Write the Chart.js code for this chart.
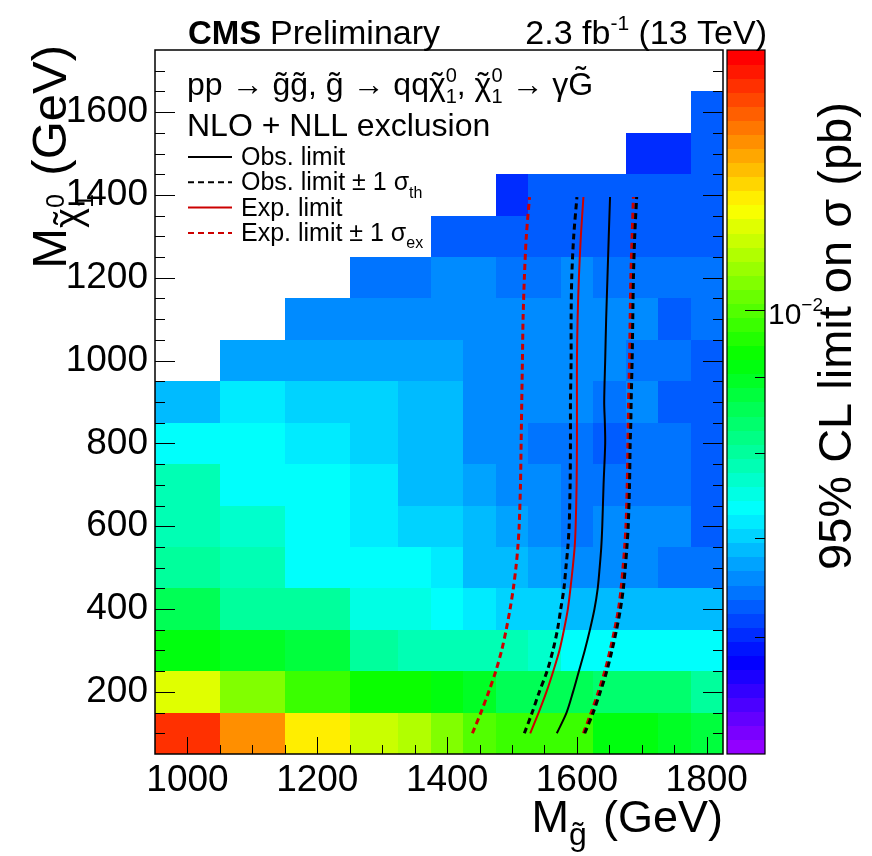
<!DOCTYPE html>
<html>
<head>
<meta charset="utf-8">
<title>gluino - neutralino limit</title>
<script src="https://cdn.jsdelivr.net/npm/chart.js@4.4.1/dist/chart.umd.min.js"></script>
<style>
  html, body { margin: 0; padding: 0; background: #fff; }
  #box { width: 872px; height: 856px; }
</style>
</head>
<body>
<div id="box"><canvas id="limits" width="872" height="856"></canvas></div>
<script>
// bin edges (GeV)
const gluinoEdges = [950, 1050, 1150, 1250, 1325, 1375, 1425, 1475, 1525, 1575, 1625, 1675, 1725, 1775, 1825];
const neutralinoEdges = [50, 150, 250, 350, 450, 550, 650, 750, 850, 950, 1050, 1150, 1250, 1350, 1450, 1550, 1650, 1750];

// 95% CL upper limit on sigma (pb), one list per neutralino bin, null = not scanned
const lim100 = [0.0143, 0.0130, 0.0119, 0.01115, 0.0109, 0.01044, 0.0101, 0.00988, 0.0098, 0.00967, 0.00925, 0.00925, 0.00895, 0.00876];
const lim200 = [0.01152, 0.01055, 0.00988, 0.0094, 0.0094, 0.00925, 0.00895, 0.00866, 0.00857, 0.00857, 0.00838, 0.00838, 0.00829, 0.00802];
const lim300 = [0.00925, 0.00895, 0.00876, 0.00802, 0.00793, 0.00784, 0.00776, 0.00776, 0.00763, 0.0074, 0.0074, 0.0074, 0.0074, 0.0073];
const lim400 = [0.00857, 0.0081, 0.00802, 0.0075, 0.0075, 0.0074, 0.00718, 0.00703, 0.00703, 0.00695, 0.00695, 0.00695, 0.00695, 0.00688];
const lim500 = [0.0081, 0.00793, 0.0074, 0.0073, 0.0073, 0.00718, 0.00684, 0.00684, 0.00672, 0.00663, 0.00663, 0.00651, 0.00644, 0.00644];
const lim600 = [0.00776, 0.00763, 0.0074, 0.00718, 0.00703, 0.00703, 0.00684, 0.00672, 0.00663, 0.00644, 0.00651, 0.00651, 0.00651, 0.0063];
const lim700 = [0.00776, 0.0074, 0.0073, 0.00718, 0.00695, 0.00695, 0.00672, 0.00651, 0.00651, 0.00644, 0.00644, 0.00644, 0.00644, 0.0063];
const lim800 = [0.0073, 0.0073, 0.00718, 0.00703, 0.00695, 0.00688, 0.00663, 0.00651, 0.00644, 0.00644, 0.0063, 0.00644, 0.00644, 0.00623];
const lim900 = [0.00695, 0.00718, 0.00703, 0.00703, 0.00688, 0.00688, 0.00663, 0.00651, 0.00651, 0.00651, 0.00644, 0.00651, 0.00623, 0.0063];
const lim1000 = [null, 0.0068, 0.0068, 0.0068, 0.00672, 0.00672, 0.00663, 0.00651, 0.00651, 0.00651, 0.00651, 0.00644, 0.00644, 0.0063];
const lim1100 = [null, null, 0.00663, 0.00663, 0.00663, 0.00663, 0.00651, 0.00651, 0.00651, 0.00651, 0.00651, 0.00651, 0.00623, 0.00644];
const lim1200 = [null, null, null, 0.0064, 0.0064, 0.00651, 0.00651, 0.00644, 0.00644, 0.00651, 0.00644, 0.00644, 0.00644, 0.00644];
const lim1300 = [null, null, null, null, null, 0.00623, 0.00623, 0.0063, 0.0063, 0.0063, 0.00623, 0.00623, 0.0063, 0.00623];
const lim1400 = [null, null, null, null, null, null, null, 0.00603, 0.00623, 0.00623, 0.00623, 0.00623, 0.00623, 0.00623];
const lim1500 = [null, null, null, null, null, null, null, null, null, null, null, 0.00603, 0.00603, 0.00623];
const lim1600 = [null, null, null, null, null, null, null, null, null, null, null, null, null, 0.00623];
const limitRows = [lim100, lim200, lim300, lim400, lim500, lim600, lim700, lim800, lim900,
    lim1000, lim1100, lim1200, lim1300, lim1400, lim1500, lim1600];

const zMin = 0.005;
const zMax = 0.015;

// exclusion contours: gluino mass (GeV) at each neutralino mass
const neutralinoMass = [100, 150, 200, 250, 300, 350, 400, 450, 500, 550, 600, 700, 800, 850, 900, 1000, 1100, 1200, 1300, 1395];
const obsLimit = [1569, 1584, 1594, 1603, 1612, 1620, 1627, 1632, 1635, 1637.5, 1639, 1641, 1643.5, 1643, 1642, 1643.5, 1645, 1647, 1649, 1651];
const obsMinus = [1519, 1531, 1542, 1554, 1563, 1570, 1575, 1580, 1583, 1586, 1588, 1589.5, 1590, 1590, 1590, 1591, 1591, 1592, 1595, 1600];
const obsPlus = [1612, 1625, 1636, 1646, 1654, 1661, 1667, 1671.5, 1674.5, 1677, 1679, 1681, 1682, 1683, 1683.5, 1685, 1686, 1687, 1689, 1692];
const expLimit = [1528, 1541, 1553, 1563.5, 1573, 1580, 1586, 1590, 1593.5, 1596.5, 1598, 1599.5, 1600, 1600, 1600, 1600, 1601, 1603, 1606, 1610];
const expMinus = [1439, 1452, 1464, 1475, 1484, 1491, 1497, 1502, 1506, 1509, 1511, 1513, 1514, 1514.5, 1515, 1516, 1517, 1519, 1522, 1527];
const expPlus = [1610, 1622, 1633, 1643, 1651, 1658, 1664, 1668, 1671, 1673.5, 1675.5, 1677.5, 1678.5, 1679, 1679.5, 1681, 1682, 1683, 1685, 1687];

const xTicks = [1000, 1200, 1400, 1600, 1800];
const yTicks = [200, 400, 600, 800, 1000, 1200, 1400, 1600];
const zTicks = [0.01];
const zMinorTicks = [0.006, 0.007, 0.008, 0.009];

const font = "'Liberation Sans', Arial, Helvetica, sans-serif";
const red = '#cc0000';

function limitColor(v, z) {
    // ROOT "pretty" palette, 50 hues from violet to red, on the log z scale
    let frac = (z.bottom - z.getPixelForValue(v)) / (z.bottom - z.top);
    let band = Math.min(49, Math.max(0, Math.floor(frac * 50)));
    return 'hsl(' + (280 - (band + 1) * 5.6) + ',100%,50%)';
}

function richText(ctx, parts, x, y, size, align) {
    const fontOf = p => (p.bold ? 'bold ' : '') + Math.round(size * (p.s || 1)) + 'px ' + font;
    const widths = parts.map(p => { ctx.font = fontOf(p); return ctx.measureText(p.t).width + (p.gap || 0) * size; });
    let total = 0, held = 0;
    parts.forEach((p, i) => {
        if (p.stack) { held = widths[i]; return; }
        total += Math.max(widths[i], held);
        held = 0;
    });
    let cx = align === 'right' ? x - total : x;
    held = 0;
    ctx.textBaseline = 'alphabetic';
    parts.forEach((p, i) => {
        const yy = y + (p.dy || 0) * size;
        ctx.font = fontOf(p);
        ctx.textAlign = 'left';
        ctx.fillText(p.t, cx, yy);
        if (p.tilde) {
            ctx.textAlign = 'center';
            ctx.fillText('\u02dc', cx + (widths[i] - (p.gap || 0) * size) / 2, yy - (p.up || 0) * size * (p.s || 1));
        }
        if (p.stack) { held = widths[i]; return; }
        cx += Math.max(widths[i], held);
        held = 0;
    });
    ctx.textAlign = 'left';
}

const heatmap = {
    id: 'heatmap',
    beforeDatasetsDraw(chart) {
        const { ctx, chartArea, scales: { x, y, z } } = chart;
        ctx.save();
        ctx.beginPath();
        ctx.rect(chartArea.left, chartArea.top, chartArea.width, chartArea.height);
        ctx.clip();
        limitRows.forEach((row, r) => {
            row.forEach((v, c) => {
                if (v === null) return;
                let x0 = Math.round(x.getPixelForValue(gluinoEdges[c]));
                let x1 = Math.round(x.getPixelForValue(gluinoEdges[c + 1]));
                let y0 = Math.round(y.getPixelForValue(neutralinoEdges[r + 1]));
                let y1 = Math.round(y.getPixelForValue(neutralinoEdges[r]));
                ctx.fillStyle = limitColor(v, z);
                ctx.fillRect(x0, y0, x1 - x0, y1 - y0);
            });
        });
        ctx.restore();
    }
};

const decorations = {
    id: 'decorations',
    afterDatasetsDraw(chart) {
        const { ctx, chartArea: a, scales: { x, y, z } } = chart;
        ctx.save();
        ctx.strokeStyle = '#000';
        ctx.fillStyle = '#000';

        // ticks, ROOT style (inside the frame)
        ctx.lineWidth = 1;
        ctx.beginPath();
        for (let m = 1000; m <= 1800; m += 50) {
            let px = Math.round(x.getPixelForValue(m)) + 0.5;
            let len = xTicks.includes(m) ? 17 : 9;
            ctx.moveTo(px, a.bottom);
            ctx.lineTo(px, a.bottom - len);
        }
        for (let m = 100; m <= 1700; m += 50) {
            let py = Math.round(y.getPixelForValue(m)) + 0.5;
            let len = yTicks.includes(m) ? 20 : 10;
            ctx.moveTo(a.left, py);
            ctx.lineTo(a.left + len, py);
            ctx.moveTo(a.right, py);
            ctx.lineTo(a.right - len, py);
        }
        ctx.stroke();

        ctx.lineWidth = 1.5;
        ctx.strokeRect(a.left, a.top, a.right - a.left, a.bottom - a.top);

        // colour bar along the z scale
        const cb0 = a.right + 4, cb1 = a.right + 42;
        for (let i = 0; i < 50; i++) {
            let v0 = zMin * Math.pow(zMax / zMin, i / 50);
            let v1 = zMin * Math.pow(zMax / zMin, (i + 1) / 50);
            let p0 = z.getPixelForValue(v0), p1 = z.getPixelForValue(v1);
            ctx.fillStyle = 'hsl(' + (280 - (i + 1) * 5.6) + ',100%,50%)';
            ctx.fillRect(cb0, Math.floor(p1), cb1 - cb0, Math.ceil(p0) - Math.floor(p1));
        }
        ctx.fillStyle = '#000';
        ctx.lineWidth = 1.2;
        ctx.strokeRect(cb0, z.top, cb1 - cb0, z.bottom - z.top);
        ctx.lineWidth = 1;
        ctx.beginPath();
        zTicks.forEach(v => {
            let py = Math.round(z.getPixelForValue(v)) + 0.5;
            ctx.moveTo(cb1, py);
            ctx.lineTo(cb1 - 20, py);
        });
        zMinorTicks.forEach(v => {
            let py = Math.round(z.getPixelForValue(v)) + 0.5;
            ctx.moveTo(cb1, py);
            ctx.lineTo(cb1 - 10, py);
        });
        ctx.stroke();
        zTicks.forEach(v => {
            let py = z.getPixelForValue(v);
            richText(ctx, [{ t: '10' }, { t: '\u22122', s: 0.62, dy: -0.42 }], cb1 + 3, py + 14, 30);
        });

        // colour bar title
        ctx.save();
        ctx.translate(851, 570);
        ctx.rotate(-Math.PI / 2);
        richText(ctx, [{ t: '95% CL limit on \u03c3 (pb)' }], 0, 0, 47);
        ctx.restore();

        // axis titles
        richText(ctx, [{ t: 'M' }, { t: 'g', s: 0.72, dy: 0.28, tilde: true, gap: 0.08 }, { t: ' (GeV)' }], a.right, 832, 45, 'right');
        ctx.save();
        ctx.translate(66, 45);
        ctx.rotate(-Math.PI / 2);
        richText(ctx, [{ t: 'M' }, { t: '\u03c7', s: 0.78, dy: 0.3, tilde: true },
            { t: '0', s: 0.5, dy: -0.05, stack: true }, { t: '1', s: 0.5, dy: 0.55, gap: 0.1 }, { t: ' (GeV)' }], 0, 0, 49, 'right');
        ctx.restore();

        // header
        richText(ctx, [{ t: 'CMS', bold: true }], 188, 44, 33);
        richText(ctx, [{ t: 'Preliminary' }], 270, 44, 34);
        richText(ctx, [{ t: '2.3 fb' }, { t: '-1', s: 0.62, dy: -0.42 }, { t: ' (13 TeV)' }], 767, 44, 34, 'right');

        // process and legend
        const chi = [{ t: '\u03c7', tilde: true }, { t: '0', s: 0.62, dy: -0.42, stack: true }, { t: '1', s: 0.62, dy: 0.25 }];
        richText(ctx, [{ t: 'pp \u2192 ' }, { t: 'g', tilde: true }, { t: 'g', tilde: true }, { t: ', ' },
            { t: 'g', tilde: true }, { t: ' \u2192 qq' }, ...chi, { t: ', ' }, ...chi,
            { t: ' \u2192 \u03b3' }, { t: 'G', tilde: true, up: 0.2 }], 187, 95, 32);
        richText(ctx, [{ t: 'NLO + NLL exclusion' }], 187, 136, 32);

        const entries = [
            { parts: [{ t: 'Obs. limit' }], color: '#000', width: 2, dash: [] },
            { parts: [{ t: 'Obs. limit \u00b1 1 \u03c3' }, { t: 'th', s: 0.65, dy: 0.3 }], color: '#000', width: 2, dash: [6, 4] },
            { parts: [{ t: 'Exp. limit' }], color: red, width: 2, dash: [] },
            { parts: [{ t: 'Exp. limit \u00b1 1 \u03c3' }, { t: 'ex', s: 0.65, dy: 0.3 }], color: red, width: 2, dash: [6, 4] }
        ];
        entries.forEach((e, i) => {
            let ly = 157 + i * 25.3;
            ctx.strokeStyle = e.color;
            ctx.lineWidth = e.width;
            ctx.setLineDash(e.dash);
            ctx.beginPath();
            ctx.moveTo(188, ly);
            ctx.lineTo(232, ly);
            ctx.stroke();
            ctx.setLineDash([]);
            ctx.fillStyle = '#000';
            richText(ctx, e.parts, 241, ly + 8, 25);
        });
        ctx.restore();
    }
};

function contour(values, color, width, dash) {
    return {
        data: neutralinoMass.map((n, i) => ({ x: values[i], y: n })),
        showLine: true,
        borderColor: color,
        borderWidth: width,
        borderDash: dash,
        pointRadius: 0,
        tension: 0.3,
        fill: false
    };
}

new Chart(document.getElementById('limits'), {
    type: 'scatter',
    data: {
        datasets: [
            contour(obsMinus, '#000', 3, [6, 4]),
            contour(obsPlus, '#000', 3, [6, 4]),
            contour(obsLimit, '#000', 2, []),
            contour(expMinus, red, 3, [6, 4]),
            contour(expPlus, red, 3, [6, 4]),
            contour(expLimit, red, 2, [])
        ]
    },
    options: {
        responsive: false,
        devicePixelRatio: 1,
        animation: false,
        layout: { padding: { top: 50, right: 149, bottom: 0, left: 0 } },
        plugins: {
            legend: { display: false },
            tooltip: { enabled: false }
        },
        scales: {
            x: {
                type: 'linear',
                min: 950,
                max: 1825,
                afterBuildTicks: s => { s.ticks = xTicks.map(v => ({ value: v })); },
                afterFit: s => { s.height = 102; },
                grid: { display: false, drawTicks: false },
                border: { display: false },
                ticks: { color: '#000', font: { family: font, size: 37 }, padding: 5, maxRotation: 0, callback: v => String(v) }
            },
            y: {
                type: 'linear',
                min: 50,
                max: 1750,
                afterBuildTicks: s => { s.ticks = yTicks.map(v => ({ value: v })); },
                afterFit: s => { s.width = 155; },
                grid: { display: false, drawTicks: false },
                border: { display: false },
                ticks: { color: '#000', font: { family: font, size: 37 }, padding: 7, callback: v => String(v) }
            },
            z: {
                type: 'logarithmic',
                position: 'right',
                min: zMin,
                max: zMax,
                afterFit: s => { s.width = 0; },
                grid: { display: false, drawTicks: false },
                border: { display: false },
                ticks: { display: false }
            }
        }
    },
    plugins: [heatmap, decorations]
});
</script>
</body>
</html>
